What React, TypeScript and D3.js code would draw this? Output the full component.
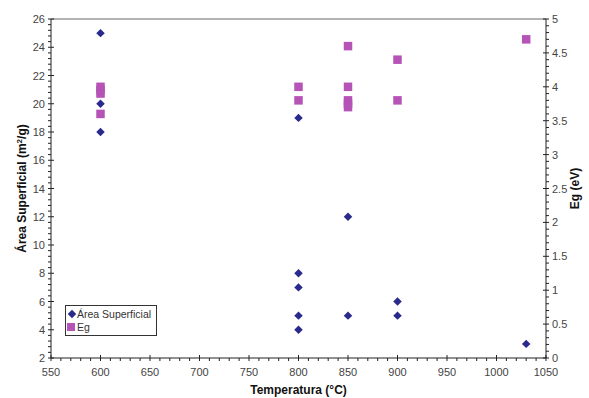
import React, { useRef, useEffect } from 'react';
import * as d3 from 'd3';

// Área superficial (m²/g) vs temperatura
const areaTemp = [600, 600, 600, 800, 800, 800, 800, 800, 850, 850, 900, 900, 1030];
const areaValues = [25, 20, 18, 19, 8, 7, 5, 4, 12, 5, 6, 5, 3];

// Eg (eV) vs temperatura
const egTemp = [600, 600, 600, 600, 800, 800, 850, 850, 850, 850, 850, 900, 900, 1030];
const egValues = [4.0, 3.95, 3.9, 3.6, 4.0, 3.8, 4.6, 4.0, 3.8, 3.75, 3.7, 4.4, 3.8, 4.7];

const xTicks = [550, 600, 650, 700, 750, 800, 850, 900, 950, 1000, 1050];
const leftTicks = [2, 4, 6, 8, 10, 12, 14, 16, 18, 20, 22, 24, 26];
const rightTicks = [0, 0.5, 1, 1.5, 2, 2.5, 3, 3.5, 4, 4.5, 5];

const W = 589;
const H = 398;
const margin = { top: 19, right: 43, bottom: 40, left: 51 };

export default function App() {
  const svgRef = useRef<SVGSVGElement>(null);

  useEffect(() => {
    if (!svgRef.current) return;
    const svg = d3.select(svgRef.current);
    svg.selectAll('*').remove();

    const x = d3.scaleLinear().domain([550, 1050]).range([margin.left, W - margin.right]);
    const yL = d3.scaleLinear().domain([2, 26]).range([H - margin.bottom, margin.top]);
    const yR = d3.scaleLinear().domain([0, 5]).range([H - margin.bottom, margin.top]);

    const font = 'Arial, "Liberation Sans", sans-serif';
    const x0 = margin.left, x1 = W - margin.right;
    const y0 = H - margin.bottom, y1 = margin.top;

    svg.append('rect').attr('width', W).attr('height', H).attr('fill', '#fff');

    // top border
    svg.append('line').attr('x1', x0).attr('x2', x1).attr('y1', y1).attr('y2', y1)
      .attr('stroke', '#9a9a9a').attr('stroke-width', 1.5);

    const axisColor = '#222';
    const g = svg.append('g').attr('stroke', axisColor).attr('stroke-width', 1);

    // axis lines
    g.append('line').attr('x1', x0).attr('x2', x0).attr('y1', y1).attr('y2', y0);
    g.append('line').attr('x1', x1).attr('x2', x1).attr('y1', y1).attr('y2', y0);
    g.append('line').attr('x1', x0).attr('x2', x1).attr('y1', y0).attr('y2', y0);

    // x ticks
    d3.range(550, 1051, 10).forEach(v => {
      const major = v % 50 === 0;
      g.append('line').attr('x1', x(v)).attr('x2', x(v))
        .attr('y1', y0 - (major ? 3 : 0)).attr('y2', y0 + 3);
    });
    // left ticks
    d3.range(0, 61).forEach(i => {
      const v = 2 + i * 0.4;
      const major = i % 5 === 0;
      g.append('line').attr('y1', yL(v)).attr('y2', yL(v))
        .attr('x1', x0 - 3).attr('x2', x0 + (major ? 3 : 0));
    });
    // right ticks
    d3.range(0, 51).forEach(i => {
      const v = i * 0.1;
      const major = i % 5 === 0;
      g.append('line').attr('y1', yR(v)).attr('y2', yR(v))
        .attr('x1', x1 - (major ? 3 : 0)).attr('x2', x1 + 3);
    });

    const labelColor = '#444';
    svg.append('g').selectAll('text').data(xTicks).join('text')
      .attr('x', d => x(d)).attr('y', y0 + 18)
      .attr('text-anchor', 'middle').attr('font-family', font).attr('font-size', 11)
      .attr('fill', labelColor).text(d => d);
    svg.append('g').selectAll('text').data(leftTicks).join('text')
      .attr('x', x0 - 6).attr('y', d => yL(d) + 4)
      .attr('text-anchor', 'end').attr('font-family', font).attr('font-size', 11)
      .attr('fill', labelColor).text(d => d);
    svg.append('g').selectAll('text').data(rightTicks).join('text')
      .attr('x', x1 + 6).attr('y', d => yR(d) + 4)
      .attr('text-anchor', 'start').attr('font-family', font).attr('font-size', 11)
      .attr('fill', labelColor).text(d => d);

    // axis titles
    svg.append('text').attr('x', (x0 + x1) / 2).attr('y', H - 4)
      .attr('text-anchor', 'middle').attr('font-family', font).attr('font-size', 12)
      .attr('font-weight', 'bold').attr('fill', '#111').text('Temperatura (°C)');
    const lt = svg.append('text')
      .attr('transform', `translate(26, ${(y0 + y1) / 2}) rotate(-90)`)
      .attr('text-anchor', 'middle').attr('font-family', font).attr('font-size', 12)
      .attr('font-weight', 'bold').attr('fill', '#111');
    lt.append('tspan').text('Área Superficial (m');
    lt.append('tspan').attr('dy', -4).attr('font-size', 8).text('2');
    lt.append('tspan').attr('dy', 4).text('/g)');
    svg.append('text')
      .attr('transform', `translate(579, ${(y0 + y1) / 2}) rotate(-90)`)
      .attr('text-anchor', 'middle').attr('font-family', font).attr('font-size', 12)
      .attr('font-weight', 'bold').attr('fill', '#111').text('Eg (eV)');

    const blue = '#2a2a8c';
    const pink = '#b653b6';
    const diamond = d3.symbol().type(d3.symbolSquare).size(36);

    // Eg squares
    svg.append('g').selectAll('rect').data(egValues).join('rect')
      .attr('x', (_, i) => x(egTemp[i]) - 4.25).attr('y', d => yR(d) - 4.25)
      .attr('width', 8.5).attr('height', 8.5).attr('fill', pink);

    // area diamonds
    svg.append('g').selectAll('path').data(areaValues).join('path')
      .attr('d', diamond)
      .attr('transform', (d, i) => `translate(${x(areaTemp[i])}, ${yL(d)}) rotate(45)`)
      .attr('fill', blue);

    // legend
    const lg = svg.append('g');
    lg.append('rect').attr('x', 65.5).attr('y', 305.5).attr('width', 91).attr('height', 30)
      .attr('fill', '#fff').attr('stroke', '#333').attr('stroke-width', 1);
    lg.append('path').attr('d', diamond)
      .attr('transform', 'translate(72, 314) rotate(45)').attr('fill', blue);
    lg.append('text').attr('x', 77).attr('y', 318).attr('font-family', font)
      .attr('font-size', 10.5).attr('fill', '#333').text('Área Superficial');
    lg.append('rect').attr('x', 67).attr('y', 323).attr('width', 8).attr('height', 8).attr('fill', pink);
    lg.append('text').attr('x', 77).attr('y', 331).attr('font-family', font)
      .attr('font-size', 10.5).attr('fill', '#333').text('Eg');
  }, []);

  return (
    <svg ref={svgRef} width={W} height={H}
      style={{ position: 'absolute', left: 0, top: 0, display: 'block' }} />
  );
}
